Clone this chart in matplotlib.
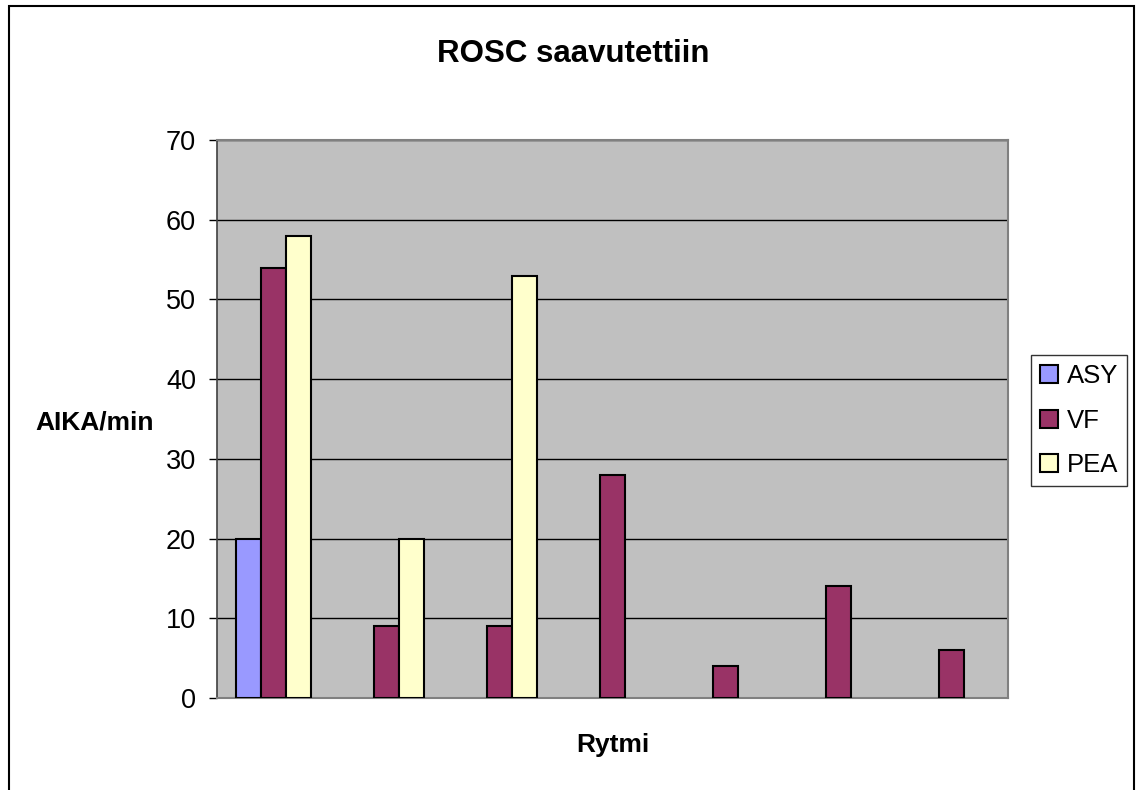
import numpy as np
import matplotlib
matplotlib.use("Agg")
import matplotlib.pyplot as plt
from matplotlib.patches import Rectangle

plt.rcParams['font.family'] = ['Liberation Sans', 'DejaVu Sans']

# data
groups = ['1', '2', '3', '4', '5', '6', '7']
series = ['ASY', 'VF', 'PEA']
asy = [20, np.nan, np.nan, np.nan, np.nan, np.nan, np.nan]
vf = [54, 9, 9, 28, 4, 14, 6]
pea = [58, 20, 53, np.nan, np.nan, np.nan, np.nan]
colors = ['#9999FF', '#993366', '#FFFFCC']

W, H = 1137, 790
fig = plt.figure(figsize=(W / 100, H / 100), dpi=100)

# outer chart border (bottom edge is cut off in the reference)
fig.patches.append(Rectangle((9 / W, -0.1), (1134 - 9) / W, 1.1 - 6 / H,
                             transform=fig.transFigure, fill=False,
                             edgecolor='black', linewidth=1.5))

ax = fig.add_axes([217 / W, 1 - 698 / H, (1008 - 217) / W, (698 - 140) / H])
ax.set_facecolor('#C0C0C0')

x = np.arange(len(groups))
w = 1 / 4.5
for i, (vals, name) in enumerate(zip([asy, vf, pea], series)):
    ax.bar(x + (i - 1) * w, vals, w, color=colors[i], edgecolor='black',
           linewidth=1.5, label=name, zorder=3)

ax.set_xlim(-0.5, len(groups) - 0.5)
ax.set_ylim(0, 70)
ax.set_yticks(range(0, 71, 10))
ax.yaxis.grid(True, color='black', linewidth=1)
ax.set_axisbelow(True)
ax.set_xticks([])
ax.tick_params(axis='y', labelsize=19.5, length=6, width=1, pad=9, colors='black')
for s in ['top', 'right', 'bottom']:
    ax.spines[s].set_color('#808080')
    ax.spines[s].set_linewidth(1.5)
ax.spines['left'].set_color('#404040')
ax.spines['left'].set_linewidth(1.2)

leg = ax.legend(loc='upper left', bbox_to_anchor=(1031 / W, 1 - 355 / H),
                bbox_transform=fig.transFigure, borderaxespad=0,
                fontsize=18.5, frameon=True, fancybox=False,
                handlelength=0.7, handleheight=0.7, handletextpad=0.35,
                labelspacing=0.8, borderpad=0.35)
leg.get_frame().set_edgecolor('black')
leg.get_frame().set_linewidth(1)
for p in leg.get_patches():
    p.set_linewidth(1.5)

fig.text(573 / W, 1 - 62 / H, 'ROSC saavutettiin', ha='center', va='baseline',
         fontsize=22.5, fontweight='bold')
fig.text(95 / W, 1 - 429 / H, 'AIKA/min', ha='center', va='baseline',
         fontsize=19, fontweight='bold')
fig.text(613 / W, 1 - 752 / H, 'Rytmi', ha='center', va='baseline',
         fontsize=19, fontweight='bold')

fig.savefig('out.png', dpi=100, facecolor='white')
